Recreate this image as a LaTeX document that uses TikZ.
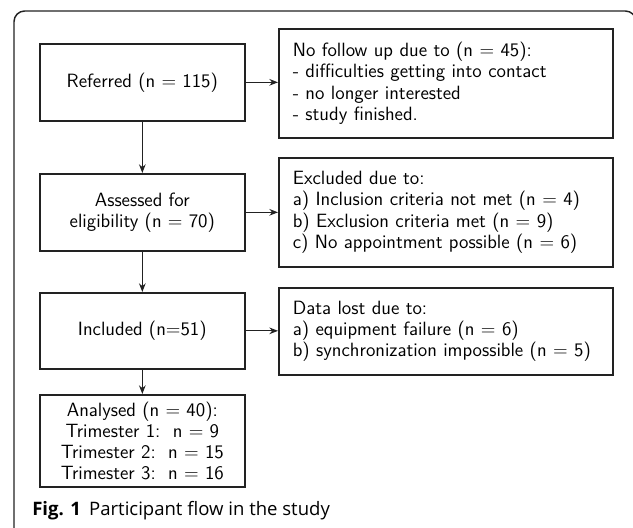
\documentclass[tikz,border=0pt]{standalone}
\usepackage{fontspec}
\newfontfamily\capfont{Open Sans}
\usetikzlibrary{arrows.meta}
\definecolor{ln}{HTML}{222222}
\begin{document}
\begin{tikzpicture}[x=0.75pt,y=-0.75pt,
  txt/.style={font=\sffamily\fontsize{14.4}{15.9}\selectfont},
  lbox/.style={txt, draw=ln, line width=1.25pt, anchor=north west, align=center,
    minimum width=153.75pt, inner sep=0pt},
  rbox/.style={txt, draw=ln, line width=1.25pt, anchor=north west, align=left,
    text width=229.5pt, inner xsep=10.5pt, inner ysep=0pt},
  arr/.style={draw=ln, line width=0.9pt, -{Stealth[length=6.5pt,width=5pt]}}]
\useasboundingbox (0,0) rectangle (633,528);
\begin{scope}
\clip (0,0) rectangle (633,528);
\draw[ln, line width=1.1pt, rounded corners=8pt] (14,11) rectangle (636,545);
\end{scope}
% left column
\node[lbox, minimum height=57.75pt] (ref) at (39,43) {Referred (n $=$ 115)};
\node[lbox, minimum height=57.75pt] (ass) at (39,173) {Assessed for\\eligibility (n $=$ 70)};
\node[lbox, minimum height=57pt] (inc) at (39,292) {Included (n$=$51)};
\node[lbox, minimum height=69pt] (ana) at (39,394) {Analysed (n $=$ 40):\\Trimester 1:\ \ n $=$ 9\\Trimester 2:\ \ n $=$ 15\\Trimester 3:\ \ n $=$ 16};
% right column
\node[rbox, minimum height=81.75pt] (r1) at (278,28) {No follow up due to (n $=$ 45):\\- difficulties getting into contact\\- no longer interested\\- study finished.};
\node[rbox, minimum height=81.75pt] (r2) at (278,157) {Excluded due to:\\a) Inclusion criteria not met (n $=$ 4)\\b) Exclusion criteria met (n $=$ 9)\\c) No appointment possible (n $=$ 6)};
\node[rbox, minimum height=65.25pt] (r3) at (278,287) {Data lost due to:\\a) equipment failure (n $=$ 6)\\b) synchronization impossible (n $=$ 5)};
% connectors
\draw[arr] (ref.east) -- (ref.east -| r1.west);
\draw[arr] (ass.east) -- (ass.east -| r2.west);
\draw[arr] (inc.east) -- (inc.east -| r3.west);
\draw[arr] (ref.south) -- (ass.north);
\draw[arr] (ass.south) -- (inc.north);
\draw[arr] (inc.south) -- (ana.north);
% caption
\node[anchor=base west, inner sep=0pt, font=\capfont\fontsize{13.9}{16}\selectfont] (cap) at (32,515) {\textbf{Fig. 1}\hspace{0.45em}Participant flow in the study};
\end{tikzpicture}
\end{document}
